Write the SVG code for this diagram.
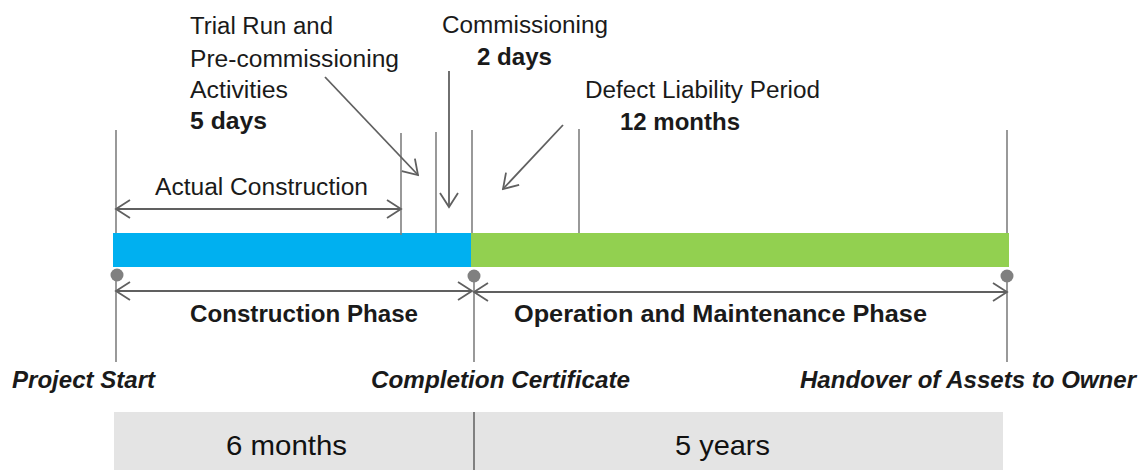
<svg xmlns="http://www.w3.org/2000/svg" width="1146" height="470" viewBox="0 0 1146 470">
<defs>
<style>
.t{font-family:"Liberation Sans",Arial,sans-serif;fill:#1a1a1a;font-size:23px}
.b{font-weight:bold;font-size:24px}
.bi{font-weight:bold;font-style:italic;font-size:23px}
.big{font-size:28px;fill:#111}
.tick{stroke:#808080;stroke-width:1.6;fill:none}
.arr{stroke:#606060;stroke-width:1.8;fill:none}
.dot{fill:#808080}
</style>
<marker id="ah" viewBox="-16 -11 18 22" markerUnits="userSpaceOnUse" markerWidth="18" markerHeight="22" refX="0" refY="0" orient="auto-start-reverse">
<path d="M-14,-9 L0,0 L-14,9" fill="none" stroke="#606060" stroke-width="1.8"/>
</marker>
</defs>
<rect width="1146" height="470" fill="#fff"/>
<g id="bar">
<rect x="113" y="233" width="358" height="34" fill="#00B0F0"/>
<rect x="471" y="233" width="538" height="34" fill="#92D050"/>
</g>
<g id="ticks">
<line class="tick" x1="116" y1="130" x2="116" y2="233"/>
<line class="tick" x1="401" y1="133" x2="401" y2="235"/>
<line class="tick" x1="436" y1="132" x2="436" y2="233"/>
<line class="tick" x1="472" y1="130" x2="472" y2="233"/>
<line class="tick" x1="579" y1="129" x2="579" y2="233"/>
<line class="tick" x1="1007" y1="130" x2="1007" y2="233"/>
<line class="tick" x1="116" y1="275" x2="116" y2="362"/>
<line class="tick" x1="474" y1="276" x2="474" y2="362"/>
<line class="tick" x1="1007" y1="276" x2="1007" y2="362"/>
</g>
<g id="milestones">
<circle class="dot" cx="117" cy="275" r="6.5"/>
<circle class="dot" cx="474" cy="276" r="6.5"/>
<circle class="dot" cx="1007" cy="276" r="6.5"/>
</g>
<g id="connectors">
<line class="arr" x1="116" y1="209" x2="401" y2="209" marker-start="url(#ah)" marker-end="url(#ah)"/>
<line class="arr" x1="116" y1="291" x2="472" y2="291" marker-start="url(#ah)" marker-end="url(#ah)"/>
<line class="arr" x1="474" y1="292" x2="1007" y2="292" marker-start="url(#ah)" marker-end="url(#ah)"/>
<line class="arr" x1="325" y1="77" x2="418" y2="175" marker-end="url(#ah)"/>
<line class="arr" x1="449" y1="71" x2="449" y2="207" marker-end="url(#ah)"/>
<line class="arr" x1="563" y1="125" x2="503" y2="189" marker-end="url(#ah)"/>
</g>
<g id="trial-run">
<text class="t" x="190" y="34" textLength="143" lengthAdjust="spacingAndGlyphs">Trial Run and</text>
<text class="t" x="190" y="67" textLength="209" lengthAdjust="spacingAndGlyphs">Pre-commissioning</text>
<text class="t" x="190" y="98" textLength="98" lengthAdjust="spacingAndGlyphs">Activities</text>
<text class="t b" x="190" y="129" textLength="77" lengthAdjust="spacingAndGlyphs">5 days</text>
</g>
<g id="commissioning">
<text class="t" x="442" y="33" textLength="166" lengthAdjust="spacingAndGlyphs">Commissioning</text>
<text class="t b" x="477" y="65" textLength="75" lengthAdjust="spacingAndGlyphs">2 days</text>
</g>
<g id="defect-liability">
<text class="t" x="585" y="98" textLength="235" lengthAdjust="spacingAndGlyphs">Defect Liability Period</text>
<text class="t b" x="620" y="130" textLength="120" lengthAdjust="spacingAndGlyphs">12 months</text>
</g>
<g id="actual-construction">
<text class="t" x="155" y="195" textLength="213" lengthAdjust="spacingAndGlyphs">Actual Construction</text>
</g>
<g id="construction-phase">
<text class="t b" x="190" y="322" textLength="228" lengthAdjust="spacingAndGlyphs">Construction Phase</text>
</g>
<g id="om-phase">
<text class="t b" x="514" y="322" textLength="413" lengthAdjust="spacingAndGlyphs">Operation and Maintenance Phase</text>
</g>
<g id="project-start">
<text class="t bi" x="12" y="388" textLength="143" lengthAdjust="spacingAndGlyphs">Project Start</text>
</g>
<g id="completion-certificate">
<text class="t bi" x="371" y="388" textLength="259" lengthAdjust="spacingAndGlyphs">Completion Certificate</text>
</g>
<g id="handover">
<text class="t bi" x="800" y="388" textLength="336" lengthAdjust="spacingAndGlyphs">Handover of Assets to Owner</text>
</g>
<g id="durations">
<rect x="114" y="412" width="889" height="58" fill="#E4E4E4"/>
<line x1="474" y1="412" x2="474" y2="470" stroke="#808080" stroke-width="2"/>
<text class="t big" x="226" y="455" textLength="121" lengthAdjust="spacingAndGlyphs">6 months</text>
<text class="t big" x="675" y="455" textLength="95" lengthAdjust="spacingAndGlyphs">5 years</text>
</g>
</svg>
